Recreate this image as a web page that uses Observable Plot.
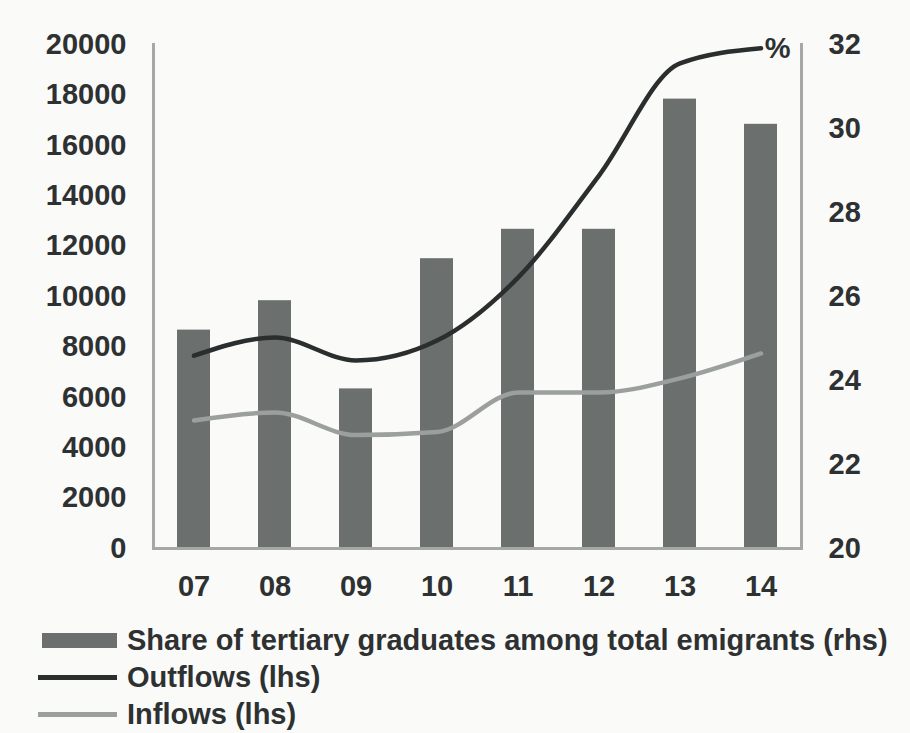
<!DOCTYPE html>
<html>
<head>
<meta charset="utf-8">
<script src="https://cdn.jsdelivr.net/npm/d3@7"></script>
<script src="https://cdn.jsdelivr.net/npm/@observablehq/plot@0.6"></script>
<style>
  html, body { margin: 0; padding: 0; background: #fafaf9; }
  #chart { width: 910px; }
  .legend { padding-top: 7px; font-family: "Liberation Sans", Arial, sans-serif; font-weight: bold; font-size: 29px; color: #2e3131; }
  .row { display: flex; align-items: center; height: 37px; }
  .sw { width: 79px; margin-left: 38px; margin-right: 10px; flex: none; }
  .sw.bar { height: 15px; background: #6b6f6e; margin-left: 42px; width: 75px; }
  .sw.out { height: 5px; background: #2b2e2e; }
  .sw.in { height: 5px; background: #9b9f9e; }
  .row span { white-space: nowrap; }
</style>
</head>
<body>
<div id="chart"></div>
<div class="legend">
  <div class="row"><div class="sw bar"></div><span>Share of tertiary graduates among total emigrants (rhs)</span></div>
  <div class="row"><div class="sw out"></div><span>Outflows (lhs)</span></div>
  <div class="row"><div class="sw in"></div><span>Inflows (lhs)</span></div>
</div>
<script>
const years = ["07", "08", "09", "10", "11", "12", "13", "14"];
const share = [25.2, 25.9, 23.8, 26.9, 27.6, 27.6, 30.7, 30.1];          // % (rhs)
const outflows = [7650, 8370, 7460, 8250, 10750, 14800, 19250, 19850];  // lhs
const inflows = [5080, 5400, 4500, 4620, 6190, 6190, 6750, 7740];       // lhs
const leftTicks = [0, 2000, 4000, 6000, 8000, 10000, 12000, 14000, 16000, 18000, 20000];
const rightTicks = [20, 22, 24, 26, 28, 30, 32];

// right axis (20–32 %) mapped onto left axis (0–20000)
const R0 = 20, R1 = 32, L0 = 0, L1 = 20000;
const toLeft = v => L0 + (v - R0) / (R1 - R0) * (L1 - L0);
const toRight = v => R0 + (v - L0) / (L1 - L0) * (R1 - R0);

const data = years.map((y, i) => ({
  year: y,
  share: toLeft(share[i]),
  outflows: outflows[i],
  inflows: inflows[i]
}));

const axisColor = "#a5a8a7";

const chart = Plot.plot({
  width: 910,
  height: 615,
  marginLeft: 153,
  marginRight: 109,
  marginTop: 44,
  marginBottom: 67,
  style: {
    fontFamily: "'Liberation Sans', Arial, sans-serif",
    fontSize: "29px",
    fontWeight: "bold",
    color: "#2e3131",
    background: "transparent"
  },
  x: { type: "band", domain: years, paddingInner: 0.59, paddingOuter: 0.295 },
  y: { domain: [L0, L1] },
  marks: [
    Plot.barY(data, { x: "year", y1: 0, y2: "share", fill: "#6b6f6e" }),
    Plot.line(data, { x: "year", y: "inflows", stroke: "#9b9f9e", strokeWidth: 4.5, curve: "monotone-x" }),
    Plot.line(data, { x: "year", y: "outflows", stroke: "#2b2e2e", strokeWidth: 4.5, curve: "monotone-x" }),
    Plot.ruleY([0], { stroke: axisColor, strokeWidth: 3 }),
    Plot.frame({ anchor: "left", stroke: axisColor, strokeWidth: 3 }),
    Plot.frame({ anchor: "right", stroke: axisColor, strokeWidth: 3 }),
    Plot.axisY(leftTicks, { anchor: "left", tickSize: 0, tickPadding: 27, tickFormat: d => String(d), label: null }),
    Plot.axisY(rightTicks.map(toLeft), { anchor: "right", tickSize: 0, tickPadding: 27, tickFormat: d => String(Math.round(toRight(d))), label: null }),
    Plot.axisX({ tickSize: 0, tickPadding: 27, label: null }),
    Plot.text(["%"], { frameAnchor: "top-right", textAnchor: "end", lineAnchor: "middle", dx: -11, dy: 4, fill: "#2e3131" })
  ]
});
document.getElementById("chart").appendChild(chart);
</script>
</body>
</html>
